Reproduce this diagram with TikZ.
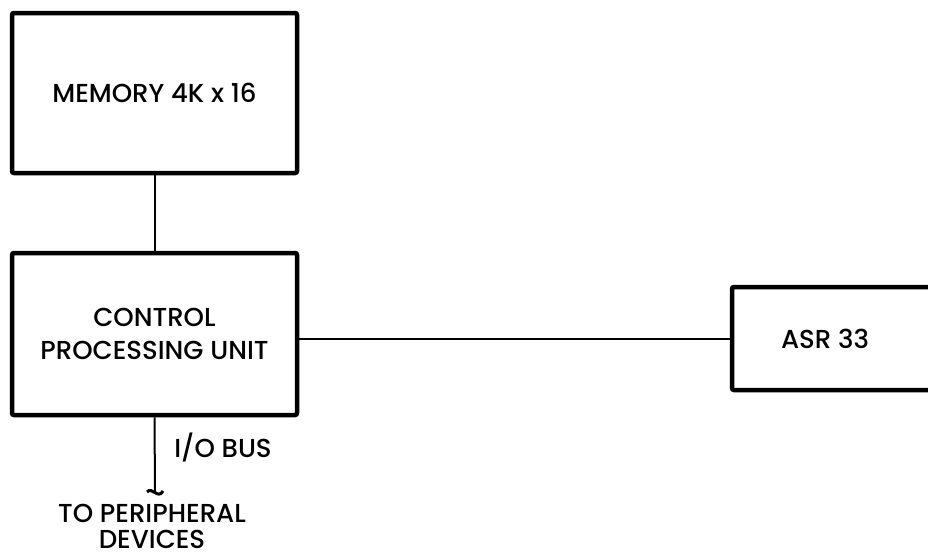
\documentclass[tikz,border=0pt]{standalone}
\usepackage{fontspec}
\setmainfont{Poppins}[BoldFont={Poppins Medium}]
\usepackage{tikz}
\usetikzlibrary{calc}

\tikzset{
  unit/.style={draw,line width=4.5pt,rounded corners=2pt,font=\fontsize{26}{33}\selectfont\bfseries,align=center},
  wire/.style={line width=2pt},
  caption/.style={font=\fontsize{26}{26}\selectfont\bfseries,align=center,inner sep=1pt}
}

\begin{document}
\begin{tikzpicture}[x=1pt,y=-1pt]
\useasboundingbox (0,0) rectangle (928,557);
\clip (0,0) rectangle (928,557);
\node[unit,minimum width=285pt,minimum height=160pt](mem)at(154.5,93){MEMORY 4K x 16};
\node[unit,minimum width=285pt,minimum height=162pt](cpu)at(154.5,334){CONTROL\\PROCESSING UNIT};
\node[unit,minimum width=230pt,minimum height=103pt,label={[caption,xshift=-22pt]center:ASR 33}](asr)at(847,338.5){};
\draw[wire](mem.south)--(cpu.north);
\draw[wire](asr.west)--(asr.west-|cpu.east);
\coordinate(busend)at(155,491);
\draw[wire](cpu.south)--(busend);
\draw[line width=3pt]($(busend)+(-8,1)$)..controls($(busend)+(-3,-5)$)and($(busend)+(3,9)$)..($(busend)+(8,0)$);
\node[caption](bus)at(223,447){I/O BUS};
\node[caption](periph)at(152,526){TO PERIPHERAL\\DEVICES};
\end{tikzpicture}
\end{document}
